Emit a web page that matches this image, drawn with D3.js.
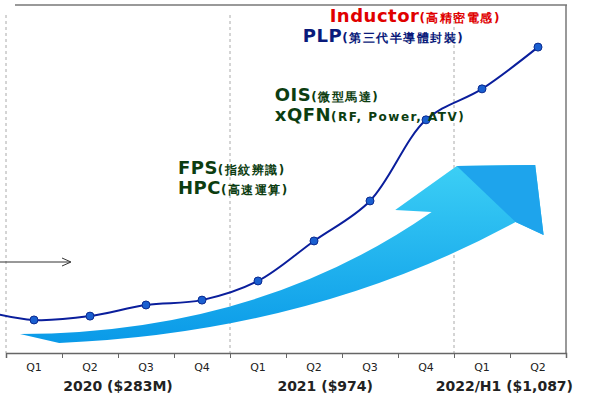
<!DOCTYPE html>
<html><head><meta charset="utf-8">
<script src="https://cdn.jsdelivr.net/npm/d3@7"></script>
<style>body{margin:0;background:#fff}text{font-family:"DejaVu Sans",Arial,sans-serif}</style>
</head><body><svg id="c" width="600" height="400"></svg>
<script>
// quarters (index -1 is the 2019 Q4 lead-in point off the left edge)
const quarters = ["Q1","Q2","Q3","Q4","Q1","Q2","Q3","Q4","Q1","Q2"];
const values = [9.5, 10.6, 13.8, 15.2, 20.7, 32.2, 43.7, 67, 75.9, 87.9];
const leadIn = 12.5;
const years = [
  {label: "2020 ($283M)", at: 1.5},
  {label: "2021 ($974)", at: 5.2},
  {label: "2022/H1 ($1,087)", at: 8.4}
];
const notes = [
  {main: "Inductor", sub: "(高精密電感)", color: "#e00000", at: 5.28, v: 95},
  {main: "PLP", sub: "(第三代半導體封裝)", color: "#0a1a7a", at: 4.8, v: 89.3},
  {main: "OIS", sub: "(微型馬達)", color: "#0c3d10", at: 4.3, v: 72.5},
  {main: "xQFN", sub: "(RF, Power, ATV)", color: "#0c3d10", at: 4.3, v: 66.8},
  {main: "FPS", sub: "(指紋辨識)", color: "#0c3d10", at: 2.57, v: 51.5},
  {main: "HPC", sub: "(高速運算)", color: "#0c3d10", at: 2.57, v: 45.8}
];

const svg = d3.select("#c");
const x = d3.scaleLinear().domain([-0.5, 9.5]).range([6, 566]);
const y = d3.scaleLinear().domain([0, 100]).range([353, 5]);

// frame
svg.append("line").attr("x1", 15).attr("x2", 567).attr("y1", 5).attr("y2", 5).attr("stroke", "#777").attr("stroke-width", 1.5);
svg.append("line").attr("x1", 566).attr("x2", 566).attr("y1", 5).attr("y2", 353).attr("stroke", "#777").attr("stroke-width", 1.5);
[-0.5, 3.5, 7.5].forEach(d => {
  svg.append("line").attr("x1", x(d)).attr("x2", x(d)).attr("y1", 15).attr("y2", 353)
    .attr("stroke", "#aaa").attr("stroke-dasharray", "3,3");
});

// axis
const ax = svg.append("g").attr("transform", "translate(0,353)")
  .call(d3.axisBottom(x).tickValues(d3.range(-0.5, 10, 1)).tickFormat("").tickSize(5));
ax.select(".domain").attr("stroke", "#666").attr("stroke-width", 1.5);
ax.selectAll(".tick line").attr("stroke", "#666");
svg.selectAll(".q").data(quarters).join("text").attr("x", (d, i) => x(i)).attr("y", 371)
  .attr("text-anchor", "middle").attr("font-size", 11).attr("fill", "#222").text(d => d);
svg.selectAll(".yr").data(years).join("text").attr("x", d => x(d.at)).attr("y", 391)
  .attr("text-anchor", "middle").attr("font-size", 14).attr("font-weight", "bold").attr("fill", "#222").text(d => d.label);

// blue swoosh arrow
const swoosh = d3.path();
swoosh.moveTo(x(-0.25), 334);
swoosh.quadraticCurveTo(x(4), 333, x(7.1), 212);
swoosh.lineTo(x(6.45), 210);
swoosh.lineTo(x(7.55), 166);
swoosh.lineTo(x(8.95), 165);
swoosh.lineTo(x(9.1), 235);
swoosh.lineTo(x(8.6), 222);
swoosh.quadraticCurveTo(x(5), 332, x(0.45), 343);
swoosh.lineTo(x(-0.25), 334);
const grad = svg.append("defs").append("linearGradient").attr("id", "g").attr("x1", 0).attr("y1", 0).attr("x2", 0).attr("y2", 1);
grad.append("stop").attr("offset", "0").attr("stop-color", "#3ccff5");
grad.append("stop").attr("offset", "1").attr("stop-color", "#0a9ae8");
svg.append("path").attr("d", swoosh.toString()).attr("fill", "url(#g)");
svg.append("path").attr("d", `M${x(7.55)},166L${x(8.95)},165L${x(9.1)},235L${x(8.6)},222Z`).attr("fill", "#1ea4ec");

// small arrow
svg.append("line").attr("x1", 0).attr("x2", 70).attr("y1", 262).attr("y2", 262).attr("stroke", "#333");
svg.append("path").attr("d", "M62,258L71,262L62,266").attr("fill", "none").attr("stroke", "#333");

// line
const pts = [[-1, leadIn]].concat(values.map((v, i) => [i, v]));
svg.append("path").datum(pts).attr("fill", "none").attr("stroke", "#0a1e9c").attr("stroke-width", 2)
  .attr("d", d3.line().x(d => x(d[0])).y(d => y(d[1])).curve(d3.curveCatmullRom));
svg.selectAll(".pt").data(values).join("circle").attr("cx", (d, i) => x(i)).attr("cy", d => y(d))
  .attr("r", 4).attr("fill", "#1a5fd0").attr("stroke", "#0a2a90").attr("stroke-width", 1);

// annotations
notes.forEach(n => {
  const t = svg.append("text").attr("x", x(n.at)).attr("y", y(n.v)).attr("fill", n.color).attr("font-weight", "bold");
  t.append("tspan").attr("font-size", 18).attr("letter-spacing", 0.5).text(n.main);
  t.append("tspan").attr("font-size", 12).attr("letter-spacing", 1.5).text(n.sub);
});
</script></body></html>
